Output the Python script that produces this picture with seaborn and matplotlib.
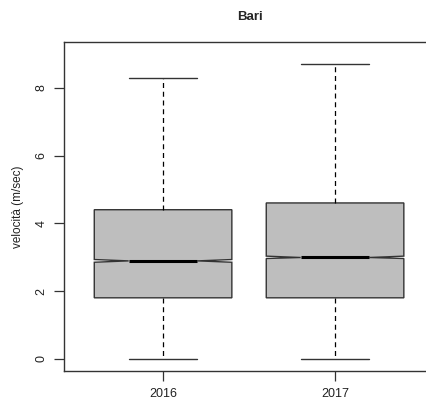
import matplotlib
matplotlib.use("Agg")
import matplotlib.pyplot as plt
import seaborn as sns

# Data
years = ["2016", "2017"]
whisker_low = [0.0, 0.0]
q1 = [1.8, 1.8]
medians = [2.89, 2.99]
q3 = [4.4, 4.6]
whisker_high = [8.3, 8.7]
notch_low = [2.85, 2.96]
notch_high = [2.93, 3.03]

sns.set_style("ticks")
plt.rcParams["font.family"] = ["Liberation Sans", "DejaVu Sans"]

stats = []
for i, lab in enumerate(years):
    stats.append(dict(label=lab, whislo=whisker_low[i], q1=q1[i], med=medians[i],
                      q3=q3[i], whishi=whisker_high[i], cilo=notch_low[i],
                      cihi=notch_high[i], fliers=[]))

fig = plt.figure(figsize=(4.27, 4.01), dpi=100)
fig.patch.set_linewidth(0)
ax = fig.add_axes([64 / 427, 30 / 401, 372 / 427, 329 / 401])
ax.patch.set_visible(False)

ax.bxp(stats, positions=[1, 2], widths=0.8, shownotches=True, patch_artist=True,
       boxprops=dict(facecolor="#bebebe", edgecolor="#333333", linewidth=1.0),
       medianprops=dict(color="black", linewidth=2.2, solid_capstyle="butt"),
       whiskerprops=dict(color="black", linestyle=(0, (4, 3)), linewidth=0.9),
       capprops=dict(color="#333333", linewidth=1.0))

ax.set_xlim(0.424, 2.587)
ax.set_ylim(-0.36, 9.35)
ax.set_yticks([0, 2, 4, 6, 8])
ax.set_yticklabels(["0", "2", "4", "6", "8"], rotation=90, va="center")
ax.set_xticks([1, 2])
ax.set_xticklabels(years)
ax.tick_params(axis="both", length=7, width=0.9, color="#333333", labelsize=9,
               labelcolor="#222222", pad=5)
for s in ax.spines.values():
    s.set_color("#333333")
    s.set_linewidth(1.0)
ax.spines["right"].set_visible(False)

ax.set_ylabel("velocità (m/sec)", fontsize=8.5, color="#222222", labelpad=8)
ax.set_title("Bari", fontsize=9.5, fontweight="bold", pad=16)

fig.savefig("out.png", dpi=100)
